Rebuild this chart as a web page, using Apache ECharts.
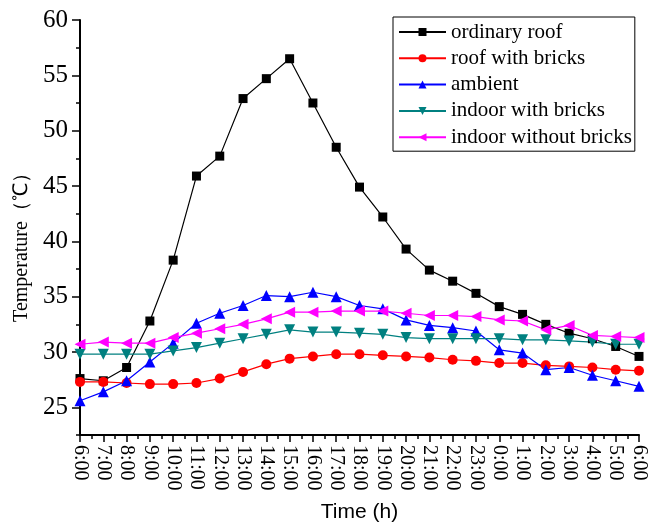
<!DOCTYPE html>
<html><head><meta charset="utf-8">
<script src="https://cdn.jsdelivr.net/npm/echarts@6/dist/echarts.min.js"></script>
<style>html,body{margin:0;padding:0;background:#fff}#c{width:648px;height:526px}</style>
</head><body><div id="c"></div>
<script>
const hours = ['6:00','7:00','8:00','9:00','10:00','11:00','12:00','13:00','14:00','15:00','16:00','17:00','18:00','19:00','20:00','21:00','22:00','23:00','0:00','1:00','2:00','3:00','4:00','5:00','6:00'];
const ordinaryRoof = [27.6,27.4,28.6,32.8,38.3,45.9,47.7,52.9,54.7,56.5,52.5,48.5,44.9,42.2,39.3,37.4,36.4,35.3,34.1,33.4,32.5,31.7,31.2,30.5,29.6];
const roofWithBricks = [27.3,27.3,27.2,27.1,27.1,27.2,27.6,28.2,28.9,29.4,29.6,29.8,29.8,29.7,29.6,29.5,29.3,29.2,29.0,29.0,28.8,28.7,28.6,28.4,28.3];
const ambient = [25.6,26.4,27.4,29.1,30.8,32.6,33.5,34.2,35.1,35.0,35.4,35.0,34.2,33.9,32.9,32.4,32.2,31.9,30.2,29.9,28.4,28.6,27.9,27.4,26.9];
const indoorWithBricks = [29.8,29.8,29.8,29.8,30.1,30.4,30.8,31.2,31.6,32.0,31.8,31.8,31.7,31.6,31.3,31.2,31.2,31.2,31.2,31.1,31.1,31.0,30.9,30.7,30.7];
const indoorWithoutBricks = [30.7,30.9,30.8,30.8,31.3,31.7,32.1,32.5,33.0,33.6,33.6,33.7,33.7,33.7,33.5,33.3,33.3,33.2,32.9,32.8,32.0,32.4,31.5,31.4,31.3];
const seriesNames = ['ordinary roof','roof with bricks','ambient','indoor with bricks','indoor without bricks'];
const yLabels = [25,30,35,40,45,50,55,60];

const serif = 'Liberation Serif, Times New Roman, serif';
const chart = echarts.init(document.getElementById('c'));
function mk(name, vals, color, symbol, size, rot){
  return {name, type:'line', data: vals.map((v,i)=>[i,v]), xAxisIndex:0, yAxisIndex:0,
    symbol, symbolSize:size, symbolRotate:rot||0, showAllSymbol:true,
    lineStyle:{color, width:1.2}, itemStyle:{color, borderWidth:0}, animation:false};
}
chart.setOption({
  animation:false,
  grid:{left:80, right:9, top:20, bottom:91, containLabel:false, outerBoundsMode:'none'},
  legend:{
    left:393, top:17, orient:'vertical', padding:[4,3,3,5],
    borderColor:'#000', borderWidth:1, itemWidth:47, itemHeight:10, itemGap:4.3,
    textStyle:{fontFamily:serif, fontSize:21, color:'#000', lineHeight:22},
    data: seriesNames
  },
  xAxis:{
    type:'value', min:0, max:24, interval:1,
    axisLine:{lineStyle:{color:'#000', width:2}},
    axisTick:{length:7, lineStyle:{color:'#000', width:1.5}},
    minorTick:{show:true, splitNumber:2, length:4, lineStyle:{color:'#000', width:1.5}},
    splitLine:{show:false}, minorSplitLine:{show:false},
    axisLabel:{rotate:-90, margin:10, fontFamily:serif, fontSize:20, color:'#000',
      formatter:(v)=>hours[Math.round(v)] || ''},
    name:'Time (h)', nameLocation:'middle', nameGap:67,
    nameTextStyle:{fontFamily:'Liberation Sans, Arial, sans-serif', fontSize:21, color:'#000'}
  },
  yAxis:[{
    type:'value', min:22.5, max:60, interval:2.5,
    axisLine:{show:true, lineStyle:{color:'#000', width:2}},
    axisTick:{length:4, lineStyle:{color:'#000', width:1.5}},
    splitLine:{show:false},
    axisLabel:{margin:12, fontFamily:serif, fontSize:25, color:'#000',
      formatter:(v)=> (yLabels.indexOf(v) >= 0 ? String(v) : '')},
    name:'Temperature（℃）', nameLocation:'middle', nameGap:45, nameRotate:90,
    nameTextStyle:{fontFamily:serif, fontSize:20, color:'#000', padding:[0,30,0,0]}
  },{
    type:'value', min:22.5, max:60, position:'left',
    axisLine:{show:false},
    axisTick:{show:true, length:8, customValues:yLabels, lineStyle:{color:'#000', width:1.5}},
    axisLabel:{show:false}, splitLine:{show:false}
  }],
  series:[
    mk(seriesNames[0], ordinaryRoof, '#000000', 'rect', 9),
    mk(seriesNames[1], roofWithBricks, '#ff0000', 'circle', 10),
    mk(seriesNames[2], ambient, '#0000ff', 'triangle', 11),
    mk(seriesNames[3], indoorWithBricks, '#008080', 'triangle', 11, 180),
    mk(seriesNames[4], indoorWithoutBricks, '#ff00ff', 'triangle', 11, 90)
  ]
});
</script></body></html>
